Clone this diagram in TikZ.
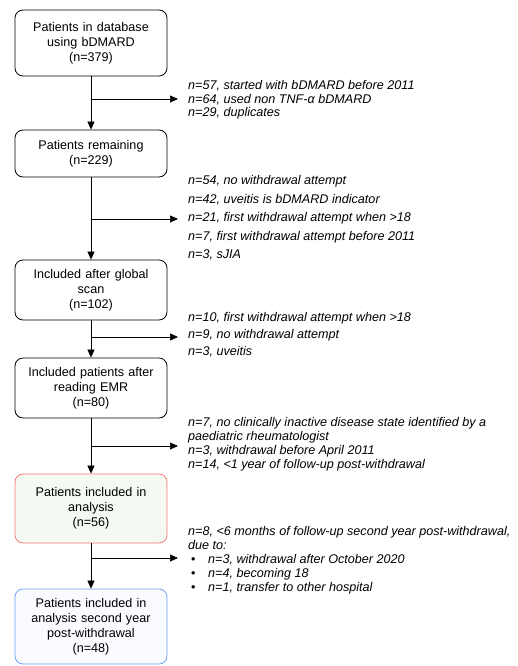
\documentclass[tikz,border=0pt]{standalone}
\usepackage{fontspec}
\setmainfont{Liberation Sans}
\usepackage{xcolor}
\usetikzlibrary{arrows.meta,positioning}

\definecolor{redline}{RGB}{245,120,115}
\definecolor{greenfill}{RGB}{244,250,242}
\definecolor{blueline}{RGB}{110,160,245}
\definecolor{bluefill}{RGB}{249,251,255}

\tikzset{
  stage/.style={draw, rounded corners=8pt, minimum width=152pt, text width=140pt,
    align=center, font=\fontsize{12.6}{15}\selectfont, line width=0.8pt},
  excl/.style={anchor=west, inner sep=0pt, align=left,
    font=\fontsize{12.6}{14}\selectfont\itshape},
  flow/.style={-{Triangle[length=8pt,width=7pt]}, line width=0.7pt},
}
\newcommand{\bul}{\hspace{3pt}\makebox[17pt][l]{\upshape\textbullet}}

\begin{document}
\begin{tikzpicture}[x=1pt, y=-1pt]
\useasboundingbox (0,0) rectangle (517,666);

% stages
\node[stage, minimum height=66pt] (db) at (91,43) {Patients in database\\using bDMARD\\(n=379)};
\node[stage, minimum height=47pt] (rem) at (91,153.5) {Patients remaining\\(n=229)};
\node[stage, minimum height=60pt] (scan) at (91,290) {Included after global\\scan\\(n=102)};
\node[stage, minimum height=60pt] (emr) at (91,388) {Included patients after\\reading EMR\\(n=80)};
\node[stage, minimum height=69pt, draw=redline, fill=greenfill] (ana) at (91,508.5) {Patients included in\\analysis\\(n=56)};
\node[stage, minimum height=75pt, draw=blueline, fill=bluefill] (sec) at (91,626.5) {Patients included in\\analysis second year\\post-withdrawal\\(n=48)};

% exclusions
\node[excl] (x1) at (188,100) {n=57, started with bDMARD before 2011\\[-0.5pt]
  n=64, used non TNF-α bDMARD\\[-0.5pt] n=29, duplicates};
\node[excl] (x2) at (188,218) {n=54, no withdrawal attempt\\[4.6pt]
  n=42, uveitis is bDMARD indicator\\[4.6pt]
  n=21, first withdrawal attempt when >18\\[4.6pt]
  n=7, first withdrawal attempt before 2011\\[4.6pt] n=3, sJIA};
\node[excl] (x3) at (188,335) {n=10, first withdrawal attempt when >18\\[3pt]
  n=9, no withdrawal attempt\\[3pt] n=3, uveitis};
\node[excl] (x4) at (188,444) {n=7, no clinically inactive disease state identified by a\\
  paediatric rheumatologist\\ n=3, withdrawal before April 2011\\
  n=14, <1 year of follow-up post-withdrawal};
\node[excl] (x5) at (188,560) {n=8, <6 months of follow-up second year post-withdrawal,\\
  due to:\\ \bul n=3, withdrawal after October 2020\\
  \bul n=4, becoming 18\\ \bul n=1, transfer to other hospital};

% connectors
\coordinate (j1) at (91,99);
\coordinate (j2) at (91,219);
\coordinate (j3) at (91,337);
\coordinate (j4) at (91,446);
\coordinate (j5) at (91,558);
\draw[flow] (db) -- (rem);
\draw[flow] (rem) -- (scan);
\draw[flow] (scan) -- (emr);
\draw[flow] (emr) -- (ana);
\draw[flow] (ana) -- (sec);
\draw[flow, shorten >=10pt] (j1) -- (x1.west |- j1);
\draw[flow, shorten >=10pt] (j2) -- (x2.west |- j2);
\draw[flow, shorten >=10pt] (j3) -- (x3.west |- j3);
\draw[flow, shorten >=10pt] (j4) -- (x4.west |- j4);
\draw[flow, shorten >=10pt] (j5) -- (x5.west |- j5);
\end{tikzpicture}
\end{document}
